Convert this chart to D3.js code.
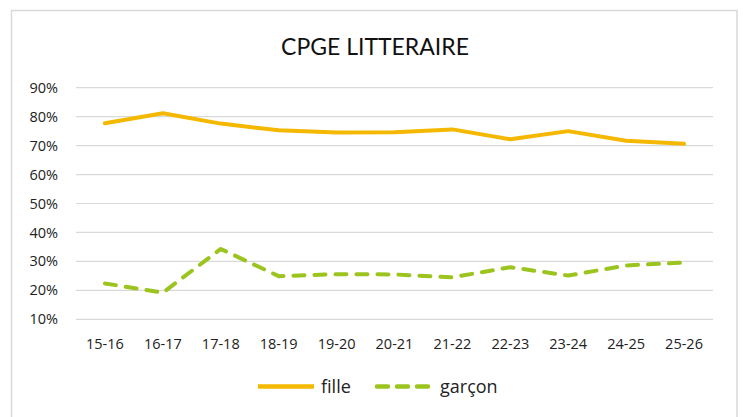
<!DOCTYPE html>
<html>
<head>
    <meta charset="utf-8">
    <title>CPGE LITTERAIRE</title>
    <script src="https://d3js.org/d3.v7.min.js"></script>
    <style>
        html, body { margin: 0; padding: 0; background: #fff; }
        #chart { width: 743px; height: 417px; }
        .tick-label { font-family: "Open Sans", sans-serif; font-size: 14.5px; fill: #222; }
        .title { font-family: Lato, sans-serif; font-size: 23px; fill: #111; }
        .legend-label { font-family: "Open Sans", sans-serif; font-size: 18px; fill: #222; }
    </style>
</head>
<body>
    <div id="chart"></div>
    <script>
        // années scolaires
        const years = ["15-16", "16-17", "17-18", "18-19", "19-20", "20-21", "21-22", "22-23", "23-24", "24-25", "25-26"];
        // parts en %
        const fille = [77.7, 81.2, 77.6, 75.3, 74.5, 74.6, 75.6, 72.2, 75.0, 71.7, 70.6];
        const garcon = [22.4, 19.2, 34.3, 24.9, 25.6, 25.5, 24.5, 28.0, 25.1, 28.6, 29.6];
        const yTicks = [10, 20, 30, 40, 50, 60, 70, 80, 90];

        const width = 743, height = 417;
        const margin = { left: 76, right: 30, top: 88, bottom: 98 };

        const svg = d3.select("#chart").append("svg")
            .attr("width", width)
            .attr("height", height);

        // cadre du graphique
        svg.append("rect")
            .attr("x", 11.5).attr("y", 10.5)
            .attr("width", 725.5).attr("height", 420)
            .style("fill", "none")
            .style("stroke", "#d9d9d9")
            .style("stroke-width", 1.5);

        const x = d3.scaleBand()
            .domain(years)
            .range([margin.left, 713]);

        const y = d3.scaleLinear()
            .domain([10, 90])
            .range([319.3, 87.7]);

        // lignes de grille
        svg.append("g")
            .selectAll("line")
            .data(yTicks)
            .enter()
            .append("line")
            .attr("x1", x.range()[0])
            .attr("x2", x.range()[1])
            .attr("y1", d => y(d))
            .attr("y2", d => y(d))
            .style("stroke", "#d9d9d9")
            .style("stroke-width", 1.2);

        // étiquettes axe Y
        svg.append("g")
            .selectAll("text")
            .data(yTicks)
            .enter()
            .append("text")
            .attr("class", "tick-label")
            .attr("x", 58)
            .attr("y", d => y(d))
            .attr("dy", "0.35em")
            .attr("text-anchor", "end")
            .text(d => d + "%");

        // étiquettes axe X
        svg.append("g")
            .selectAll("text")
            .data(years)
            .enter()
            .append("text")
            .attr("class", "tick-label")
            .attr("x", d => x(d) + x.bandwidth() / 2)
            .attr("y", 344)
            .attr("dy", "0.35em")
            .attr("text-anchor", "middle")
            .text(d => d);

        const line = d3.line()
            .x((d, i) => x(years[i]) + x.bandwidth() / 2)
            .y(d => y(d));

        const series = [
            { name: "fille", values: fille, color: "#F4B800", dash: null },
            { name: "garçon", values: garcon, color: "#9CC41E", dash: "11 10" }
        ];

        series.forEach(s => {
            svg.append("path")
                .datum(s.values)
                .attr("d", line)
                .style("fill", "none")
                .style("stroke", s.color)
                .style("stroke-width", 4)
                .style("stroke-linecap", "round")
                .style("stroke-linejoin", "round")
                .style("stroke-dasharray", s.dash);
        });

        // titre
        svg.append("text")
            .attr("class", "title")
            .attr("x", 375)
            .attr("y", 54.5)
            .attr("text-anchor", "middle")
            .text("CPGE LITTERAIRE");

        // légende
        const legendX = [256, 375];
        series.forEach((s, i) => {
            const g = svg.append("g").attr("transform", `translate(${legendX[i]},386.5)`);
            g.append("line")
                .attr("x1", 2).attr("x2", 58)
                .attr("y1", 0).attr("y2", 0)
                .style("stroke", s.color)
                .style("stroke-width", 4.5)
                .style("stroke-linecap", s.dash ? "round" : "butt")
                .style("stroke-dasharray", s.dash ? "11 9" : null);
            g.append("text")
                .attr("class", "legend-label")
                .attr("x", 65)
                .attr("y", 0)
                .attr("dy", "0.35em")
                .text(s.name);
        });
    </script>
</body>
</html>
